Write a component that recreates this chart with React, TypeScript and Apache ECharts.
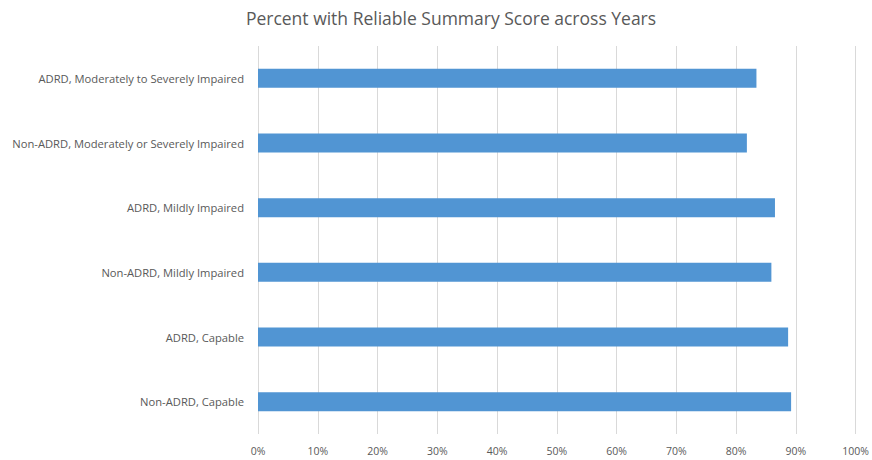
import React, { useEffect, useRef } from "react";
import * as echarts from "echarts";

const categories = [
  "ADRD, Moderately to Severely Impaired",
  "Non-ADRD, Moderately or Severely Impaired",
  "ADRD, Mildly Impaired",
  "Non-ADRD, Mildly Impaired",
  "ADRD, Capable",
  "Non-ADRD, Capable",
];
const values = [83.4, 81.8, 86.5, 85.9, 88.7, 89.2];
const titleText = "Percent with Reliable Summary Score across Years";

export default function App() {
  const ref = useRef<HTMLDivElement>(null);
  useEffect(() => {
    document.body.style.margin = "0";
    if (!ref.current) return;
    const chart = echarts.init(ref.current, undefined, { renderer: "svg" });
    chart.setOption({
      animation: false,
      backgroundColor: "#ffffff",
      title: {
        text: titleText,
        left: 446,
        top: 4,
        textAlign: "center",
        textStyle: {
          fontFamily: "Open Sans",
          fontSize: 17.5,
          fontWeight: "normal",
          color: "#595959",
        },
      },
      grid: { left: 258, right: 13, top: 46, bottom: 26, containLabel: false },
      xAxis: {
        type: "value",
        min: 0,
        max: 100,
        interval: 10,
        axisLine: { show: false },
        axisTick: { show: false },
        axisLabel: {
          formatter: "{value}%",
          fontFamily: "Open Sans",
          fontSize: 10.5,
          color: "#595959",
          margin: 11,
        },
        splitLine: { show: true, lineStyle: { color: "#d9d9d9", width: 1 } },
      },
      yAxis: {
        type: "category",
        data: categories,
        inverse: true,
        axisLine: { show: false },
        axisTick: { show: false },
        axisLabel: {
          fontFamily: "Open Sans",
          fontSize: 11.2,
          color: "#595959",
          margin: 14,
        },
      },
      series: [
        {
          type: "bar",
          data: values,
          barWidth: 19,
          itemStyle: { color: "#5195d3" },
        },
      ],
    });
    return () => chart.dispose();
  }, []);
  return <div ref={ref} style={{ width: 872, height: 460 }} />;
}
